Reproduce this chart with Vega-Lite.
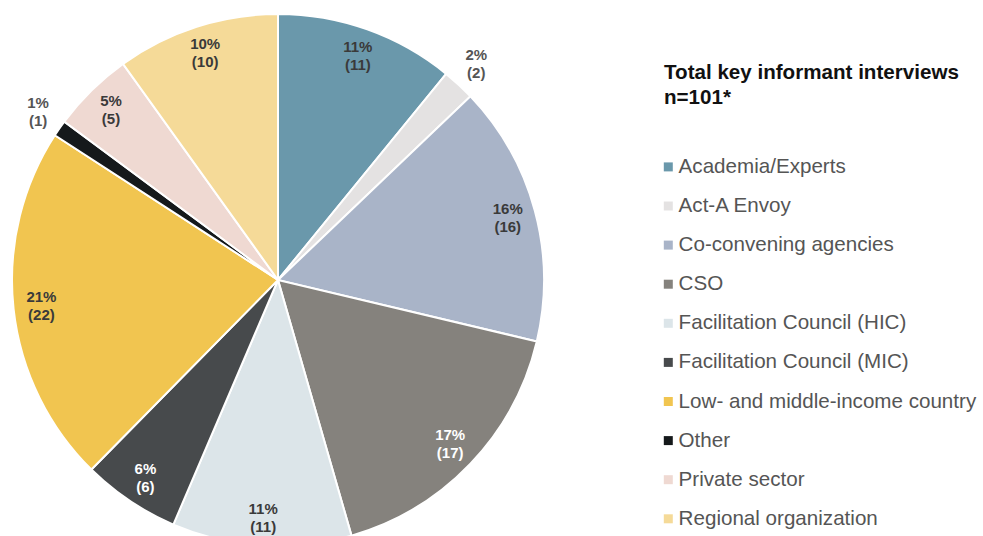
{
  "$schema": "https://vega.github.io/schema/vega-lite/v6.json",
  "width": 556,
  "height": 560,
  "autosize": {"type": "none"},
  "padding": {"left": 0, "top": 0, "right": 427, "bottom": 0},
  "background": "white",
  "config": {
    "view": {"stroke": null},
    "font": "Liberation Sans"
  },
  "data": {
    "values": [
      {"cat": "Academia/Experts", "n": 11, "pct": "11%"},
      {"cat": "Act-A Envoy", "n": 2, "pct": "2%"},
      {"cat": "Co-convening agencies", "n": 16, "pct": "16%"},
      {"cat": "CSO", "n": 17, "pct": "17%"},
      {"cat": "Facilitation Council (HIC)", "n": 11, "pct": "11%"},
      {"cat": "Facilitation Council (MIC)", "n": 6, "pct": "6%"},
      {"cat": "Low- and middle-income country", "n": 22, "pct": "21%"},
      {"cat": "Other", "n": 1, "pct": "1%"},
      {"cat": "Private sector", "n": 5, "pct": "5%"},
      {"cat": "Regional organization", "n": 10, "pct": "10%"}
    ]
  },
  "transform": [
    {"window": [{"op": "row_number", "as": "i"}]},
    {"calculate": "datum.pct + '\\n(' + datum.n + ')'", "as": "label"}
  ],
  "layer": [
    {
      "mark": {"type": "arc", "outerRadius": 266, "stroke": "white", "strokeWidth": 2},
      "encoding": {
        "theta": {"field": "n", "type": "quantitative", "stack": true},
        "order": {"field": "i", "type": "quantitative"},
        "color": {
          "field": "cat",
          "type": "nominal",
          "sort": null,
          "scale": {
            "domain": ["Academia/Experts", "Act-A Envoy", "Co-convening agencies", "CSO", "Facilitation Council (HIC)", "Facilitation Council (MIC)", "Low- and middle-income country", "Other", "Private sector", "Regional organization"],
            "range": ["#6a98ab", "#e4e2e2", "#a9b4c8", "#85827d", "#dce5e9", "#474a4c", "#f1c550", "#15191b", "#efd9d2", "#f5da98"]
          },
          "legend": {
            "orient": "none",
            "legendX": 664,
            "legendY": 63,
            "title": ["Total key informant interviews", "n=101*"],
            "titleFontSize": 20.6,
            "titleFontWeight": "bold",
            "titleColor": "#111111",
            "titleLineHeight": 25,
            "titlePadding": 48,
            "titleLimit": 400,
            "labelFontSize": 20.6,
            "labelColor": "#555555",
            "labelLimit": 400,
            "labelOffset": 0,
            "symbolOffset": -6,
            "symbolType": "square",
            "symbolSize": 81,
            "symbolStrokeWidth": 0,
            "rowPadding": 18.1
          }
        }
      }
    },
    {
      "mark": {"type": "text", "radius": 238, "dy": -9, "fontSize": 15, "fontWeight": "bold", "lineBreak": "\n", "lineHeight": 18, "baseline": "middle", "align": "center"},
      "encoding": {
        "theta": {"field": "n", "type": "quantitative", "stack": true},
        "order": {"field": "i", "type": "quantitative"},
        "text": {"field": "label", "condition": {"test": "datum.n < 3", "value": ""}},
        "color": {"condition": {"test": "datum.cat === 'CSO' || datum.cat === 'Facilitation Council (MIC)'", "value": "#ffffff"}, "value": "#3a3a3a"}
      }
    },
    {
      "mark": {"type": "text", "radius": 292, "dy": -11, "fontSize": 15, "fontWeight": "bold", "lineBreak": "\n", "lineHeight": 18, "baseline": "middle", "align": "center", "color": "#555555"},
      "encoding": {
        "theta": {"field": "n", "type": "quantitative", "stack": true},
        "order": {"field": "i", "type": "quantitative"},
        "text": {"field": "label", "condition": {"test": "datum.n >= 3", "value": ""}}
      }
    }
  ]
}
